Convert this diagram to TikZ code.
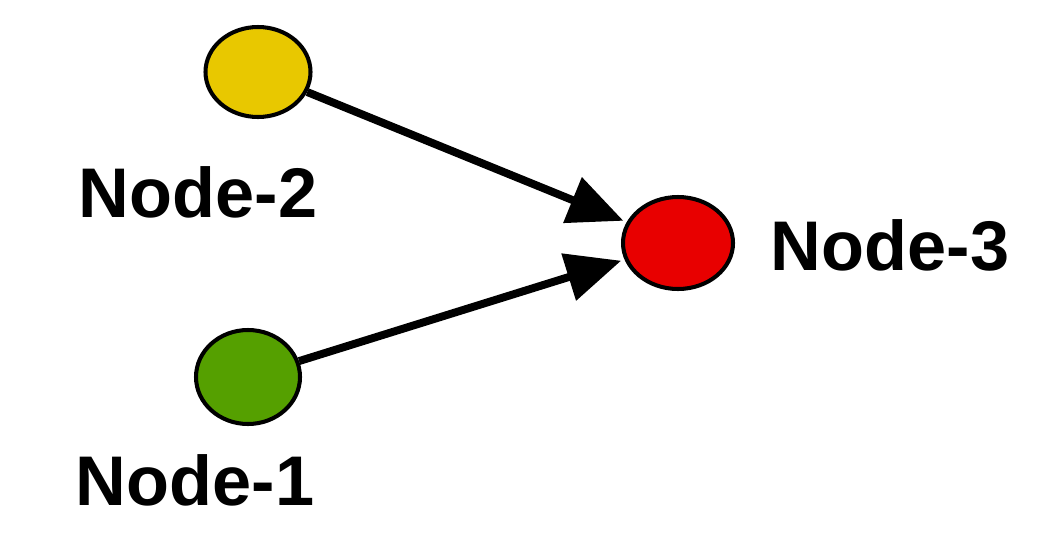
\documentclass[tikz,border=0pt]{standalone}
\usepackage{fontspec}
\setmainfont{Liberation Sans}
\usetikzlibrary{arrows.meta,shapes.geometric}
\definecolor{nodeyellow}{HTML}{E8C800}
\definecolor{nodegreen}{HTML}{55A000}
\definecolor{nodered}{HTML}{E80000}

\begin{document}
\begin{tikzpicture}[
    dot/.style={ellipse, draw=black, line width=2.3pt, inner sep=0pt},
    lbl/.style={font=\fontsize{40}{40}\selectfont\bfseries},
    link/.style={line width=4.5pt, -{Triangle[length=1.1cm, width=0.95cm]}, shorten >=2pt}]

    \useasboundingbox (0,0) rectangle (21.02,10.84);

    % the three nodes
    \node [dot, fill=nodeyellow, minimum width=2.1cm, minimum height=1.8cm] at (5.16,9.40) (n2) {};
    \node [dot, fill=nodegreen, minimum width=2.08cm, minimum height=1.88cm] at (4.96,3.30) (n1) {};
    \node [dot, fill=nodered, minimum width=2.2cm, minimum height=1.84cm] at (13.56,5.98) (n3) {};

    % labels
    \node [lbl] at (3.96,7.00) (l2) {Node-2};
    \node [lbl] at (3.90,1.24) (l1) {Node-1};
    \node [lbl] at (17.8,5.94) (l3) {Node-3};

    % arrows into node 3
    \draw [link] (n2) -- (n3);
    \draw [link] (n1) -- (n3);

\end{tikzpicture}
\end{document}
